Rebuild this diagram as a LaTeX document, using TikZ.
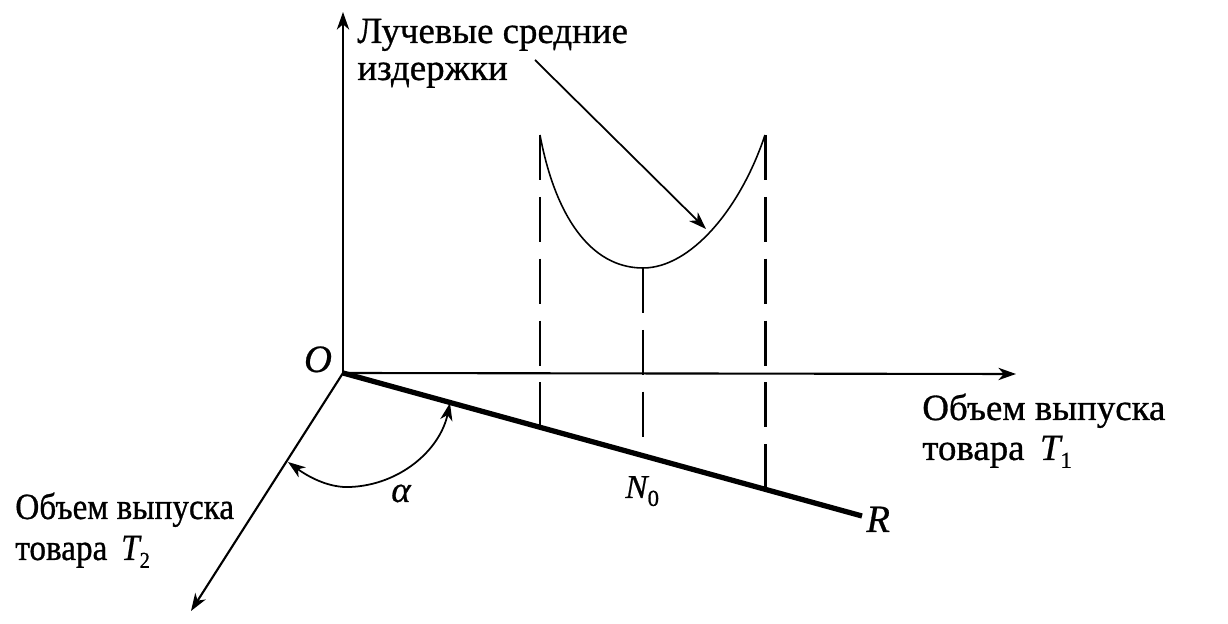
\documentclass[tikz,border=0pt]{standalone}
\usepackage{fontspec}
\setmainfont{Liberation Serif}[FakeBold=1.5]
\usetikzlibrary{arrows.meta}
\newfontfamily\heavyfont{Liberation Serif}[FakeBold=0.8]
\newfontfamily\heavyitfont{Liberation Serif Italic}[FakeBold=0.6]
\newcommand{\lowsub}[1]{\raisebox{-4.5pt}{\fontsize{13}{13}\selectfont\heavyfont #1}}
\begin{document}
\begin{tikzpicture}[x=0.02cm,y=-0.02cm,
  tip/.style={-{Stealth[length=10pt,width=7pt,inset=3pt]}},
  axis/.style={tip,line width=1.2pt},
  ray/.style={line width=3pt},
  drop/.style={line width=1.7pt,dash pattern=on 25.6pt off 9.6pt},
  curve/.style={line width=0.9pt},
  lbl/.style={inner sep=0pt,font=\fontsize{21}{24}\selectfont\heavyfont},
  sym/.style={inner sep=0pt,font=\fontsize{22}{24}\selectfont\heavyitfont}]
\useasboundingbox (0,0) rectangle (1228,624);
\fill[white] (0,0) rectangle (1228,624);
% axes
\coordinate (O) at (343,373);
\coordinate (Ytop) at (343,12);
\coordinate (Xend) at (1016,374);
\coordinate (Zend) at (191,611);
\coordinate (Rend) at (862,516);
\draw[axis] (O) -- (Ytop);
\draw[axis] (O) -- (Xend);
\draw[axis] (O) -- (Zend);
\draw[ray] (O) -- (Rend);
% curve
\coordinate (A) at (540,135);
\coordinate (M) at (643,268);
\coordinate (B) at (765,135);
\coordinate (Af) at (540,427);
\coordinate (Mf) at (643,456);
\coordinate (Bf) at (765,489);
\draw[curve] (A) .. controls (555,215) and (590,268) .. (M)
  .. controls (690,268) and (740,210) .. (B);
\draw[drop] (A) -- (Af);
\draw[drop] (M) -- (Mf);
\draw[drop] (B) -- (Bf);
% pointer
\coordinate (P0) at (535,60);
\coordinate (P1) at (706,229);
\draw[tip,line width=1pt] (P0) -- (P1);
% angle
\coordinate (a1) at (288,462);
\coordinate (am) at (350,487);
\coordinate (a2) at (450,403);
\draw[{Stealth[length=10pt,width=7pt,inset=3pt]}-{Stealth[length=10pt,width=7pt,inset=3pt]},line width=1pt]
  (a1) .. controls (310,478) and (330,488) .. (am) .. controls (400,485) and (440,450) .. (a2);
% labels
\node[lbl,anchor=base west] (lc1) at (357,43) {Лучевые средние};
\node[lbl,anchor=base west] (lc2) at (357,80) {издержки};
\node[lbl,anchor=base west] (t1a) at (922,420) {Объем выпуска};
\node[lbl,anchor=base west] (t1b) at (922,460) {товара\, {\heavyitfont T}\lowsub{1}};
\node[lbl,anchor=base west] (t2a) at (15,519) {\scalebox{0.9}[1]{Объем выпуска}};
\node[lbl,anchor=base west] (t2b) at (15,560) {\scalebox{0.9}[1]{товара\, {\heavyitfont T}\lowsub{2}}};
\node[sym,anchor=base] (Olbl) at (318,372) {O};
\node[sym,anchor=base,font=\fontsize{21}{24}\selectfont\heavyitfont] (alpha) at (401,502) {α};
\node[sym,anchor=base west,font=\fontsize{19}{22}\selectfont\heavyitfont] (N0) at (625,498) {N\lowsub{0}};
\node[sym,anchor=base west] (Rlbl) at (866,532) {R};
\end{tikzpicture}
\end{document}
